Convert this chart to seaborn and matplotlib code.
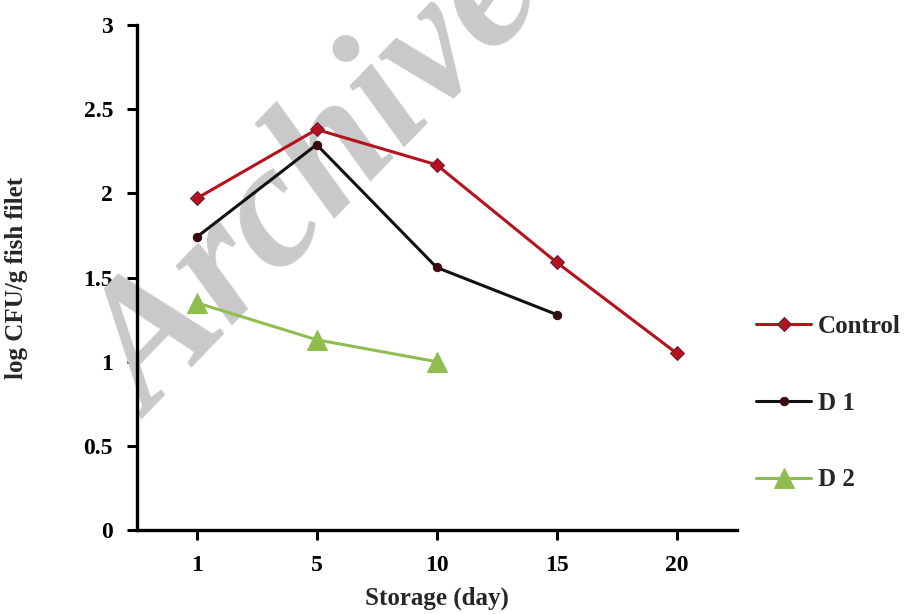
import matplotlib
matplotlib.use("Agg")
import matplotlib.pyplot as plt
import pandas as pd
import seaborn as sns

days = ["1", "5", "10", "15", "20"]
control = [1.97, 2.38, 2.17, 1.59, 1.05]
d1 = [1.74, 2.29, 1.56, 1.28]
d2 = [1.35, 1.13, 1.00]

rows = []
for name, vals in [("Control", control), ("D 1", d1), ("D 2", d2)]:
    for day, v in zip(days, vals):
        rows.append({"day": day, "value": v, "group": name})
df = pd.DataFrame(rows)

sns.set_theme(style="ticks")
plt.rcParams["font.family"] = ["Liberation Serif", "DejaVu Serif"]
plt.rcParams["font.weight"] = "bold"

fig = plt.figure(figsize=(9.05, 6.14), dpi=100)
ax = fig.add_axes([0.151, 0.137, 0.663, 0.822])

palette = {"Control": "#b5121b", "D 1": "#111111", "D 2": "#8fbd4f"}
markers = {"Control": "D", "D 1": "o", "D 2": "^"}
sizes = {"Control": 7, "D 1": 6, "D 2": 14}
faces = {"Control": "#b5121b", "D 1": "#3a0a10", "D 2": "#8fbd4f"}
edges = {"Control": "#6a1a40", "D 1": "#3a0a10", "D 2": "#8fbd4f"}

for name in ["Control", "D 1", "D 2"]:
    sub = df[df["group"] == name]
    sns.lineplot(data=sub, x="day", y="value", ax=ax, color=palette[name],
                 marker=markers[name], markersize=sizes[name],
                 markeredgecolor=edges[name], markerfacecolor=faces[name],
                 linewidth=2.2, label=name, sort=False, zorder=3)

# watermark, behind the lines
ax.text(0.352, 0.70, "Archive", transform=fig.transFigure, color="#c9c9cc",
        fontsize=128, fontweight="bold", fontstyle="italic", rotation=46,
        ha="center", va="center", zorder=1, clip_on=False)

ax.set_xlim(-0.5, 4.5)
ax.set_ylim(0, 3)
ax.set_yticks([0, 0.5, 1, 1.5, 2, 2.5, 3])
ax.set_yticklabels(["0", "0.5", "1", "1.5", "2", "2.5", "3"])
sns.despine(ax=ax)
for s in ["left", "bottom"]:
    ax.spines[s].set_linewidth(2.4)
    ax.spines[s].set_color("black")
ax.tick_params(axis="both", length=7, width=2.2, labelsize=17, colors="black")
ax.tick_params(axis="y", pad=10)
ax.tick_params(axis="x", pad=11)
for lab in ax.get_xticklabels() + ax.get_yticklabels():
    lab.set_fontweight("bold")

ax.set_xlabel("Storage (day)", fontsize=18, fontweight="bold", labelpad=8)
ax.set_ylabel("log CFU/g fish filet", fontsize=18, fontweight="bold", labelpad=40)

ax.legend(loc="center left", bbox_to_anchor=(1.033, 0.251), frameon=False,
          borderaxespad=0, borderpad=0, labelspacing=2.15, handlelength=2.2,
          handletextpad=0.25, prop={"weight": "bold", "size": 18})

fig.savefig("out.png", dpi=100)
